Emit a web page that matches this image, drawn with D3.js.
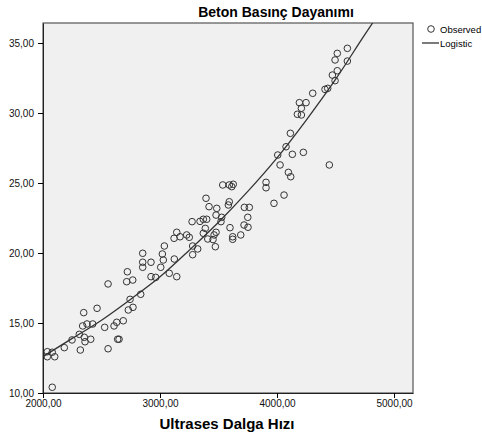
<!DOCTYPE html>
<html>
<head>
<meta charset="utf-8">
<script src="https://cdn.jsdelivr.net/npm/d3@7"></script>
<style>
  body { margin: 0; background: #fff; }
</style>
</head>
<body>
<div class="container"></div>
<script>
// observed values (x = ultrasonic pulse velocity, y = concrete strength)
const velocity = [
  2037, 2037, 2079, 2100, 2079, 2182, 2248, 2319, 2310, 2353, 2359, 2408, 2339, 2376, 2425,
  2348, 2462, 2527, 2556, 2556, 2607, 2630, 2650, 2638, 2686, 2721, 2715, 2767, 2729, 2744,
  2769, 2835, 2852, 2852, 2852, 2923, 2923, 2963, 3006, 3020, 3028, 3037, 3079, 3122, 3143,
  3120, 3143, 3171, 3228, 3250, 3274, 3279, 3279, 3322, 3342, 3370, 3399, 3370, 3387, 3393,
  3419, 3408, 3462, 3479, 3473, 3479, 3485, 3453, 3527, 3521, 3592, 3584, 3598, 3536, 3592,
  3626, 3613, 3621, 3621, 3690, 3718, 3752, 3750, 3721, 3763, 3906, 3906, 3974, 4006, 4026,
  4060, 4097, 4117, 4077, 4131, 4114, 4225, 4447, 4174, 4208, 4208, 4191, 4248, 4305, 4410,
  4433, 4473, 4496, 4515, 4496, 4515, 4601, 4601
];
const strength = [
  12.95, 12.59, 12.91, 12.59, 10.41, 13.24, 13.79, 13.07, 14.19, 13.98, 13.66, 13.84, 14.79, 14.93, 14.93,
  15.74, 16.05, 14.69, 13.16, 17.79, 14.79, 15.05, 13.84, 13.84, 15.16, 18.66, 17.95, 18.07, 15.93, 16.69,
  16.12, 17.05, 19.98, 19.34, 18.98, 19.34, 18.31, 18.26, 18.98, 19.93, 19.50, 20.50, 18.55, 19.57, 18.31,
  21.05, 21.48, 21.16, 21.29, 21.12, 22.24, 20.50, 19.88, 20.29, 22.26, 22.41, 22.41, 21.41, 21.76, 23.91,
  23.31, 21.00, 21.29, 21.48, 20.45, 22.71, 23.19, 20.96, 22.55, 22.24, 23.66, 23.43, 21.81, 24.86, 24.86,
  24.91, 24.74, 21.16, 20.98, 21.29, 22.00, 21.84, 22.55, 23.26, 23.26, 25.05, 24.66, 23.55, 27.00, 26.29,
  24.14, 25.76, 25.45, 27.59, 27.05, 28.55, 27.19, 26.29, 29.91, 29.86, 30.34, 30.74, 30.74, 31.41, 31.69,
  31.76, 32.71, 32.31, 33.02, 33.79, 34.26, 34.62, 33.71
];

// fitted "Logistic" curve
const fitX = [2000, 2250, 2500, 2750, 3000, 3250, 3500, 3750, 4000, 4250, 4500, 4750, 4830];
const fitY = [12.6, 13.9, 15.2, 16.7, 18.3, 20.2, 22.2, 24.4, 26.8, 29.5, 32.4, 35.6, 36.6];

const xTicks = [2000, 3000, 4000, 5000];
const yTicks = [10, 15, 20, 25, 30, 35];

const width = 482;
const height = 437;
const plot = { left: 43, right: 413, top: 23, bottom: 393 };

const fmt = (d) => d3.format(".2f")(d).replace(".", ",");

const svg = d3
  .create("svg")
  .attr("width", width)
  .attr("height", height)
  .style("display", "block")
  .style("font-family", "'DejaVu Sans', sans-serif");

const x = d3.scaleLinear().domain([2000, 5162]).range([plot.left, plot.right]);
const y = d3.scaleLinear().domain([10, 36.43]).range([plot.bottom, plot.top]);

svg
  .append("defs")
  .append("clipPath")
  .attr("id", "clip")
  .append("rect")
  .attr("x", plot.left)
  .attr("y", plot.top)
  .attr("width", plot.right - plot.left)
  .attr("height", plot.bottom - plot.top);

// plot background
svg
  .append("rect")
  .attr("x", plot.left)
  .attr("y", plot.top)
  .attr("width", plot.right - plot.left)
  .attr("height", plot.bottom - plot.top)
  .attr("fill", "#f0f0f0")
  .attr("stroke", "#555")
  .attr("stroke-width", 1.2);

// points
svg
  .append("g")
  .selectAll("circle")
  .data(velocity)
  .join("circle")
  .attr("cx", (d) => x(d))
  .attr("cy", (d, i) => y(strength[i]))
  .attr("r", 3.3)
  .attr("fill", "none")
  .attr("stroke", "#333")
  .attr("stroke-width", 1);

// fitted line
const line = d3
  .line()
  .x((d) => x(d))
  .y((d, i) => y(fitY[i]))
  .curve(d3.curveMonotoneX);

svg
  .append("path")
  .attr("clip-path", "url(#clip)")
  .attr("d", line(fitX))
  .attr("fill", "none")
  .attr("stroke", "#333")
  .attr("stroke-width", 1.3);

// axes
const xAxis = svg
  .append("g")
  .attr("transform", `translate(0,${plot.bottom})`)
  .call(d3.axisBottom(x).tickValues(xTicks).tickFormat(fmt).tickSize(5).tickSizeOuter(0));
xAxis.select(".domain").attr("stroke", "#222");
xAxis.selectAll("text").attr("dy", "0.6em").style("font-size", "10px").attr("fill", "#111");

const yAxis = svg
  .append("g")
  .attr("transform", `translate(${plot.left},0)`)
  .call(d3.axisLeft(y).tickValues(yTicks).tickFormat(fmt).tickSize(5).tickSizeOuter(0));
yAxis.select(".domain").attr("stroke", "#222");
yAxis.selectAll("text").attr("x", -9).style("font-size", "10px").attr("fill", "#111");

// titles
svg
  .append("text")
  .attr("x", 276)
  .attr("y", 17)
  .attr("text-anchor", "middle")
  .style("font-family", "'Liberation Sans', sans-serif")
  .style("font-weight", "bold")
  .style("font-size", "14px")
  .text("Beton Basınç Dayanımı");

svg
  .append("text")
  .attr("x", 227)
  .attr("y", 429)
  .attr("text-anchor", "middle")
  .style("font-family", "'Liberation Sans', sans-serif")
  .style("font-weight", "bold")
  .style("font-size", "15px")
  .text("Ultrases Dalga Hızı");

// legend (kept narrow so "Observed" fits in the window)
const legend = svg
  .append("g")
  .style("font-family", "'Liberation Sans', sans-serif")
  .style("font-size", "9.5px");
legend
  .append("circle")
  .attr("cx", 431)
  .attr("cy", 29)
  .attr("r", 3.3)
  .attr("fill", "none")
  .attr("stroke", "#333");
legend.append("text").attr("x", 440).attr("y", 32.5).text("Observed");
legend
  .append("line")
  .attr("x1", 422)
  .attr("x2", 439)
  .attr("y1", 43)
  .attr("y2", 43)
  .attr("stroke", "#333")
  .attr("stroke-width", 1.3);
legend.append("text").attr("x", 440).attr("y", 46.5).text("Logistic");

document.querySelector(".container").append(svg.node());
</script>
</body>
</html>
